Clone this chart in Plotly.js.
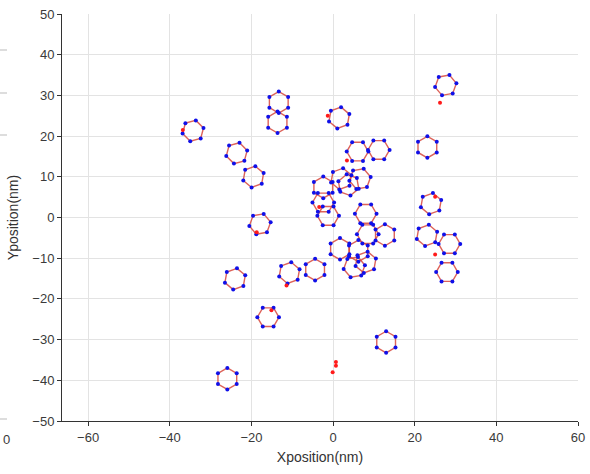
<!DOCTYPE html>
<html>
<head>
<meta charset="utf-8">
<script src="https://cdn.plot.ly/plotly-3.0.1.min.js"></script>
<style>html,body{margin:0;padding:0;background:#fff;}#chart{width:590px;height:474px;}</style>
</head>
<body>
<div id="chart"></div>
<script>
// Ring (hexagon) centres in nm
const ringX = [-34.3, -23.6, -19.5, -13.3, -13.6, 1.5, 6.0, 11.2, 23.1, 27.6,
               -2.4, -2.4, -1.2, 2.0, 3.8, 6.6, 8.0, 8.5, 12.7, 1.7,
               6.2, 5.2, 8.0, -4.4, -10.7, -17.9, -24.0, -15.9, 13.0, -25.9,
               24.0, 23.0, 28.5, 27.9];
const ringY = [21.3, 15.8, 10.0, 28.3, 23.4, 24.5, 16.2, 16.6, 17.3, 32.5,
               7.4, 3.7, 0.4, 9.5, 8.0, 9.5, 0.9, -4.1, -4.3, -7.7,
               -8.2, -12.2, -11.0, -12.8, -13.6, -1.6, -15.1, -24.5, -30.6, -39.6,
               3.4, -4.4, -6.5, -13.4];
// Ring orientation (degrees of first vertex)
const ringAngle = [15, 75, 80, 90, 90, 20, 0, 0, 90, 10,
                   30, 0, 60, 20, 40, 10, 0, 0, 90, 30,
                   90, 10, 80, 90, 80, 70, 80, 60, 90, 90,
                   80, 20, 0, 0];
const ringRadius = 2.65;
// Isolated red localisations
const redX = [-36.8, -1.3, 3.4, 26.2, 25.0, 25.0, -18.7, -11.4, -15.1, 0.7, 0.7, -0.1, -3.4];
const redY = [21.5, 25.0, 14.0, 28.2, 5.1, -9.1, -3.6, -16.7, -22.8, -35.5, -36.4, -38.0, 2.6];

// build hexagon outlines from the ring table
const lx = [], ly = [], px = [], py = [];
for (let i = 0; i < ringX.length; i++) {
  for (let k = 0; k <= 6; k++) {
    const a = (ringAngle[i] + 60 * (k % 6)) * Math.PI / 180;
    const vx = ringX[i] + ringRadius * Math.cos(a);
    const vy = ringY[i] + ringRadius * Math.sin(a);
    lx.push(vx); ly.push(vy);
    if (k < 6) { px.push(vx); py.push(vy); }
  }
  lx.push(null); ly.push(null);
}

const traces = [
  {x: lx, y: ly, mode: 'lines', type: 'scatter', hoverinfo: 'skip',
   line: {color: 'rgba(215,70,60,0.85)', width: 1.4}},
  {x: px, y: py, mode: 'markers', type: 'scatter',
   marker: {color: '#1010e8', size: 4}},
  {x: redX, y: redY, mode: 'markers', type: 'scatter',
   marker: {color: '#ff1a1a', size: 4}}
];

const tickFont = {family: 'Liberation Sans, Arial, sans-serif', size: 13, color: '#3a3a3a'};
const layout = {
  width: 590, height: 474,
  margin: {l: 62, r: 12, t: 14, b: 53},
  paper_bgcolor: '#ffffff', plot_bgcolor: '#ffffff',
  showlegend: false,
  xaxis: {
    range: [-66.4, 60], tickvals: [-60, -40, -20, 0, 20, 40, 60],
    showgrid: true, gridcolor: '#e3e3e3', gridwidth: 1, zeroline: false,
    showline: true, linecolor: '#333333', linewidth: 1,
    ticks: 'outside', ticklen: 4, tickcolor: '#333333',
    tickfont: tickFont,
    title: {text: 'Xposition(nm)', font: {family: 'Liberation Sans, Arial, sans-serif', size: 14, color: '#333333'}, standoff: 8}
  },
  yaxis: {
    range: [-50, 50], dtick: 10,
    showgrid: true, gridcolor: '#e3e3e3', gridwidth: 1, zeroline: false,
    showline: true, linecolor: '#333333', linewidth: 1,
    ticks: 'outside', ticklen: 4, tickcolor: '#333333',
    tickfont: tickFont,
    title: {text: 'Yposition(nm)', font: {family: 'Liberation Sans, Arial, sans-serif', size: 14, color: '#333333'}, standoff: 10}
  },
  shapes: [50, 93, 135, 419].map(function (yp) {
    return {type: 'line', xref: 'paper', yref: 'paper',
      x0: -62 / 516, x1: -55 / 516,
      y0: (421 - yp) / 407, y1: (421 - yp) / 407,
      line: {color: '#bbbbbb', width: 1}};
  }),
  annotations: [{xref: 'paper', yref: 'paper', x: -61 / 516, y: (421 - 440) / 407,
    xanchor: 'left', yanchor: 'middle', showarrow: false, text: '0',
    font: {family: 'Liberation Sans, Arial, sans-serif', size: 13, color: '#3a3a3a'}}]
};

Plotly.newPlot('chart', traces, layout, {displayModeBar: false, staticPlot: true});
</script>
</body>
</html>
